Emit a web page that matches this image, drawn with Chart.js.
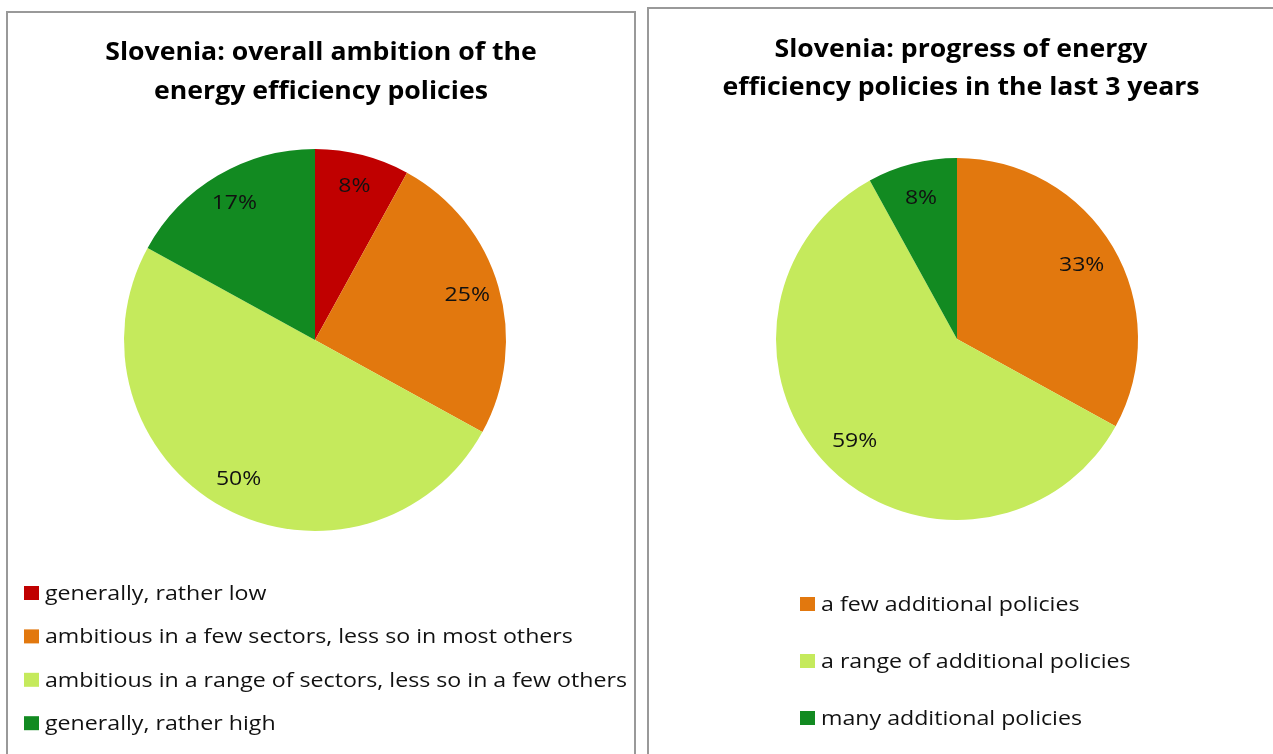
<!DOCTYPE html>
<html>
<head>
<meta charset="utf-8">
<script src="https://cdn.jsdelivr.net/npm/chart.js@4"></script>
<style>
  html,body{margin:0;padding:0;background:#fff;overflow:hidden;}
  .panel{position:absolute;border:2px solid #999;background:#fff;}
  #p1{left:6px;top:11px;width:626px;height:750px;}
  #p2{left:647px;top:7px;width:640px;height:750px;border-right:none;}
  canvas{display:block;}
</style>
</head>
<body>
<div class="panel" id="p1"><canvas id="c1" width="626" height="750"></canvas></div>
<div class="panel" id="p2"><canvas id="c2" width="624" height="750"></canvas></div>
<script>
// data
const ambitionTitle = ['Slovenia: overall ambition of the','energy efficiency policies'];
const ambitionLabels = ['generally, rather low','ambitious in a few sectors, less so in most others','ambitious in a range of sectors, less so in a few others','generally, rather high'];
const ambitionValues = [8, 25, 50, 17];
const ambitionColors = ['#C00000','#E2780E','#C5EA5C','#128A21'];

const progressTitle = ['Slovenia: progress of energy','efficiency policies in the last 3 years'];
const progressLabels = ['a few additional policies','a range of additional policies','many additional policies'];
const progressValues = [33, 59, 8];
const progressColors = ['#E2780E','#C5EA5C','#128A21'];

const FONT = '"Open Sans", Lato, sans-serif';

// text drawn a little wider than the font (the original is horizontally stretched)
function wideText(ctx, txt, x, y, sx){
  ctx.save(); ctx.translate(x,y); ctx.scale(sx,1); ctx.fillText(txt,0,0); ctx.restore();
}

// two-line title, centred over the panel
const panelTitle = {
  id:'panelTitle',
  afterDraw(chart, args, opts){
    const {ctx} = chart;
    ctx.save();
    ctx.font = opts.font; ctx.fillStyle='#000';
    ctx.textAlign='center'; ctx.textBaseline='middle';
    opts.text.forEach((t,i)=> wideText(ctx, t, chart.width/2, opts.top + i*opts.step, opts.sx));
    ctx.restore();
  }
};

// percent labels inside the slices
const sliceLabels = {
  id:'sliceLabels',
  afterDatasetsDraw(chart, args, opts){
    const {ctx} = chart, meta = chart.getDatasetMeta(0);
    const vals = chart.data.datasets[0].data;
    ctx.save();
    ctx.font = opts.font; ctx.fillStyle = '#111';
    ctx.textAlign='center'; ctx.textBaseline='middle';
    meta.data.forEach((arc,i)=>{
      const mid=(arc.startAngle+arc.endAngle)/2, r=arc.outerRadius*opts.radius;
      wideText(ctx, vals[i]+'%', arc.x+Math.cos(mid)*r, arc.y+Math.sin(mid)*r, opts.sx);
    });
    ctx.restore();
  }
};

// simple vertical legend below the pie
const listLegend = {
  id:'listLegend',
  afterDraw(chart, args, opts){
    const {ctx} = chart, ds = chart.data.datasets[0];
    ctx.save();
    ctx.font = opts.font; ctx.textBaseline='middle'; ctx.textAlign='left';
    chart.data.labels.forEach((lab,i)=>{
      const y = opts.top + i*opts.step;
      ctx.fillStyle = ds.backgroundColor[i];
      ctx.fillRect(opts.x, y-7, 15, 14);
      ctx.fillStyle = '#111';
      wideText(ctx, lab, opts.x+21, y+1, opts.sx);
    });
    ctx.restore();
  }
};

function makePie(id, labels, values, colors, title, cfg){
  return new Chart(document.getElementById(id), {
    type:'pie',
    data:{labels, datasets:[{data:values, backgroundColor:colors, borderWidth:0}]},
    options:{
      responsive:false, animation:false,
      layout:{padding:cfg.pad},
      plugins:{
        legend:{display:false}, tooltip:{enabled:false}, title:{display:false},
        panelTitle:{text:title, font:'bold 25px '+FONT, top:cfg.titleTop, step:cfg.titleStep, sx:1.065},
        sliceLabels:{font:'20px '+FONT, radius:cfg.labelR, sx:1.15},
        listLegend:cfg.legend
      }
    },
    plugins:[sliceLabels, listLegend, panelTitle]
  });
}

makePie('c1', ambitionLabels, ambitionValues, ambitionColors, ambitionTitle,
  {pad:{left:116,right:128,top:136,bottom:232}, titleTop:40, titleStep:39, labelR:0.83,
   legend:{font:'20.5px '+FONT, x:16, top:580, step:43.4, sx:1.13}});

makePie('c2', progressLabels, progressValues, progressColors, progressTitle,
  {pad:{left:127,right:135,top:149,bottom:239}, titleTop:41, titleStep:38, labelR:0.8,
   legend:{font:'20.5px '+FONT, x:151, top:595, step:57, sx:1.13}});
</script>
</body>
</html>
